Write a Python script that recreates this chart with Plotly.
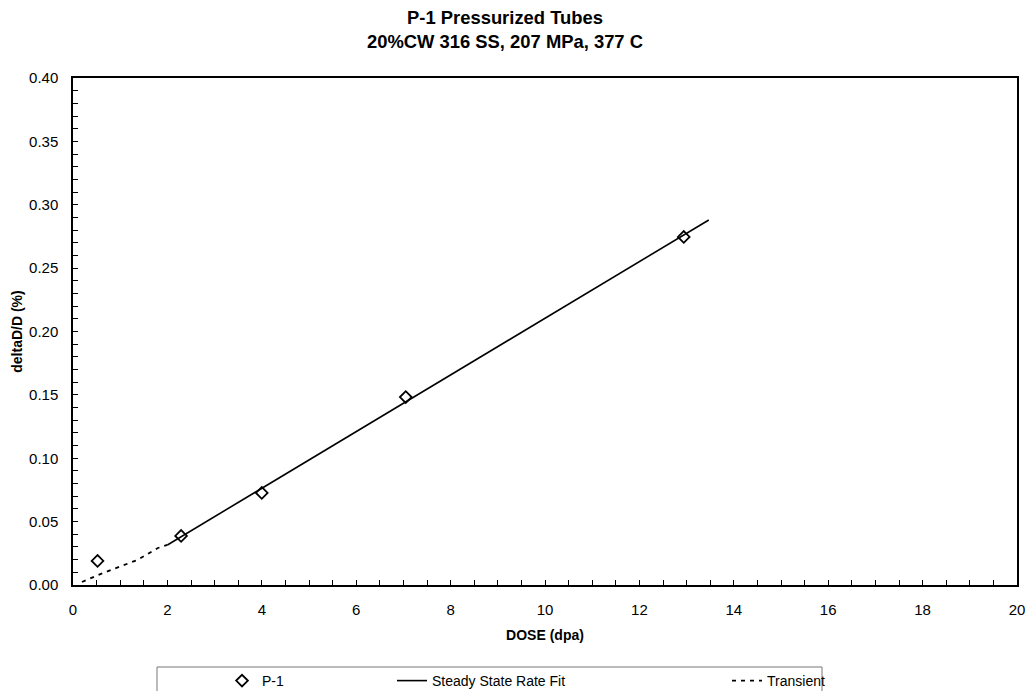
import plotly.graph_objects as go

# Data
p1_dose = [0.52, 2.29, 4.0, 7.05, 12.94]
p1_dd = [0.019, 0.0387, 0.0726, 0.1483, 0.2746]

fit_dose = [2.0, 13.47]
fit_dd = [0.0316, 0.288]

trans_dose = [0.19, 0.64, 1.36, 1.80, 2.0]
trans_dd = [0.0024, 0.0095, 0.0197, 0.0292, 0.0316]

x_ticks = [0, 2, 4, 6, 8, 10, 12, 14, 16, 18, 20]
y_ticks = [0.00, 0.05, 0.10, 0.15, 0.20, 0.25, 0.30, 0.35, 0.40]

FONT = "Liberation Sans, Arial, sans-serif"

fig = go.Figure()
fig.add_trace(go.Scatter(
    x=p1_dose, y=p1_dd, mode="markers", name="P-1", legend="legend",
    marker=dict(symbol="diamond-open", size=9, color="black", line=dict(width=1.8, color="black")),
))
fig.add_trace(go.Scatter(
    x=fit_dose, y=fit_dd, mode="lines", name="Steady State Rate Fit", legend="legend2",
    line=dict(color="black", width=1.6),
))
fig.add_trace(go.Scatter(
    x=trans_dose, y=trans_dd, mode="lines", name="Transient", legend="legend3",
    line=dict(color="black", width=1.8, dash="4px,5px"),
))

axis_common = dict(
    showline=True, linecolor="black", linewidth=1.5, mirror=True,
    ticks="inside", ticklen=5, tickwidth=1.2, tickcolor="black",
    showgrid=False, zeroline=False,
    tickfont=dict(family=FONT, size=15, color="black"),
    ticklabelstandoff=10,
)

leg_common = dict(
    orientation="h", xref="container", yref="container",
    xanchor="left", yanchor="top", y=1 - 665 / 691,
    font=dict(family=FONT, size=14, color="black"),
    bgcolor="rgba(0,0,0,0)", borderwidth=0,
)

fig.update_layout(
    width=1027, height=691,
    paper_bgcolor="white", plot_bgcolor="white",
    margin=dict(l=73, r=10, t=78, b=106, autoexpand=False),
    font=dict(family=FONT, color="black"),
    title=dict(
        text="<b>P-1 Pressurized Tubes<br>20%CW 316 SS, 207 MPa, 377 C</b>",
        font=dict(family=FONT, size=18.4, color="black"),
        x=(505 - 73) / 944, xref="paper", xanchor="center",
        y=1 - 24 / 691, yref="container", yanchor="top",
    ),
    xaxis=dict(
        range=[0, 20], tickvals=x_ticks, ticktext=[str(v) for v in x_ticks],
        minor=dict(dtick=0.5, ticks="inside", ticklen=5, tickwidth=1.2, tickcolor="black", showgrid=False),
        title=dict(text="<b>DOSE (dpa)</b>", font=dict(family=FONT, size=14, color="black"), standoff=13),
        **axis_common,
    ),
    yaxis=dict(
        range=[0, 0.40], tickvals=y_ticks, ticktext=[f"{v:.2f}" for v in y_ticks],
        minor=dict(dtick=0.01, ticks="inside", ticklen=5, tickwidth=1.2, tickcolor="black", showgrid=False),
        title=dict(text="<b>deltaD/D (%)</b>", font=dict(family=FONT, size=14, color="black"), standoff=3),
        **axis_common,
    ),
    showlegend=True,
    legend=dict(x=222 / 1027, **leg_common),
    legend2=dict(x=392 / 1027, **leg_common),
    legend3=dict(x=727 / 1027, **leg_common),
    shapes=[dict(
        type="rect", xref="paper", yref="paper",
        x0=(157 - 73) / 944, x1=(822 - 73) / 944,
        y0=(585 - 667) / 507, y1=(585 - 700) / 507,
        line=dict(color="#777777", width=1), fillcolor="rgba(0,0,0,0)",
    )],
)

fig.write_html("out.html")
